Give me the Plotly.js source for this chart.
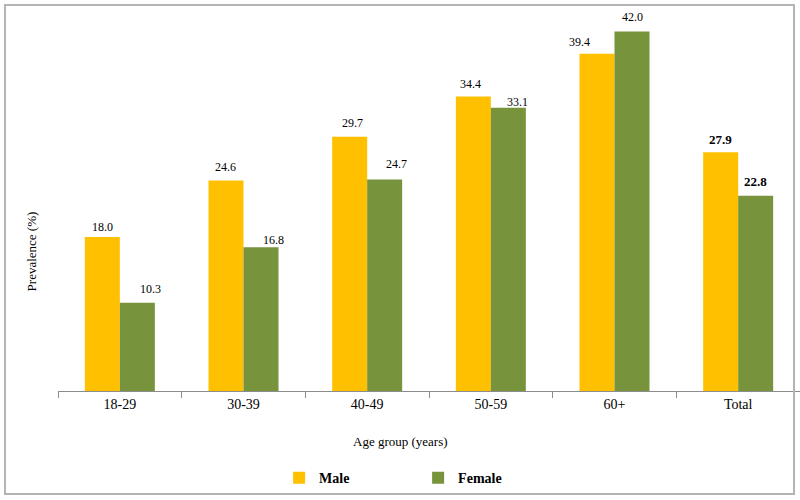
<!DOCTYPE html>
<html>
<head>
<meta charset="utf-8">
<script src="https://cdn.plot.ly/plotly-3.0.1.min.js"></script>
<style>
  html, body { margin: 0; padding: 0; background: #fff; }
  #wrap { position: relative; width: 800px; height: 500px; }
  #chart { width: 800px; height: 500px; }
  #frame { position: absolute; left: 4px; top: 4px; width: 791px; height: 491px;
           box-sizing: border-box; border: 2px solid #b4b4b4; pointer-events: none; }
</style>
</head>
<body>
<div id="wrap"><div id="chart"></div><div id="frame"></div></div>
<script>
const categories = ["18-29", "30-39", "40-49", "50-59", "60+", "Total"];
const maleValues = [18.0, 24.6, 29.7, 34.4, 39.4, 27.9];
const femaleValues = [10.3, 16.8, 24.7, 33.1, 42.0, 22.8];
const seriesNames = ["Male", "Female"];

const maleColor = "#FFC000";
const femaleColor = "#77933C";
const serif = "'Liberation Serif', 'Times New Roman', Times, serif";

// label placement offsets (styling only)
const maleShift = [[0, 10], [0, 13], [3, 14], [-3, 13], [-17, 12], [0, 13]];
const femaleShift = [[13, 14], [12, 7], [12, 16], [9, 6], [0, 14], [0, 14]];

const traces = [
  { type: "bar", name: seriesNames[0], x: categories, y: maleValues,
    marker: { color: maleColor }, hoverinfo: "none" },
  { type: "bar", name: seriesNames[1], x: categories, y: femaleValues,
    marker: { color: femaleColor }, hoverinfo: "none" }
];

const annotations = [];
function addLabels(vals, shifts, xoff) {
  vals.forEach((v, i) => {
    const isTotal = categories[i] === "Total";
    annotations.push({
      x: i + xoff, y: v, xref: "x", yref: "y",
      text: isTotal ? "<b>" + v.toFixed(1) + "</b>" : v.toFixed(1),
      showarrow: false, yanchor: "middle", xanchor: "center",
      xshift: shifts[i][0], yshift: shifts[i][1],
      font: { family: serif, size: isTotal ? 13 : 12, color: "#000" }
    });
  });
}
addLabels(maleValues, maleShift, -0.142);
addLabels(femaleValues, femaleShift, 0.142);

annotations.push({
  text: "Age group (years)", xref: "paper", yref: "paper",
  x: 0.462, y: -0.135, xanchor: "center", yanchor: "middle", showarrow: false,
  font: { family: serif, size: 13, color: "#000" }
});
annotations.push({
  text: "Prevalence (%)", xref: "paper", yref: "paper",
  x: -0.036, y: 0.377, xanchor: "center", yanchor: "middle", showarrow: false,
  textangle: -90, font: { family: serif, size: 13, color: "#000" }
});

const layout = {
  width: 800, height: 500,
  margin: { l: 58, r: 0, t: 20, b: 109 },
  paper_bgcolor: "#fff", plot_bgcolor: "#fff",
  barmode: "group", bargap: 0.434, bargroupgap: 0,
  showlegend: true,
  legend: {
    orientation: "h", x: 0.298, xanchor: "left", y: -0.235, yanchor: "middle",
    font: { family: serif, size: 14, color: "#000", weight: "bold" },
    entrywidth: 94, entrywidthmode: "pixels", itemwidth: 30,
    bgcolor: "rgba(0,0,0,0)"
  },
  xaxis: {
    type: "category", range: [-0.5, 5.5], tickson: "boundaries",
    ticks: "outside", ticklen: 6, tickcolor: "#8c8c8c", tickwidth: 1,
    showline: true, linecolor: "#8c8c8c", linewidth: 1,
    showgrid: false, zeroline: false,
    tickfont: { family: serif, size: 14, color: "#000" }
  },
  yaxis: {
    range: [0, 43.34], showline: false, showgrid: false, zeroline: false,
    showticklabels: false, ticks: ""
  },
  annotations: annotations,
  font: { family: serif }
};

Plotly.newPlot("chart", traces, layout, { displayModeBar: false, staticPlot: true });
</script>
</body>
</html>
